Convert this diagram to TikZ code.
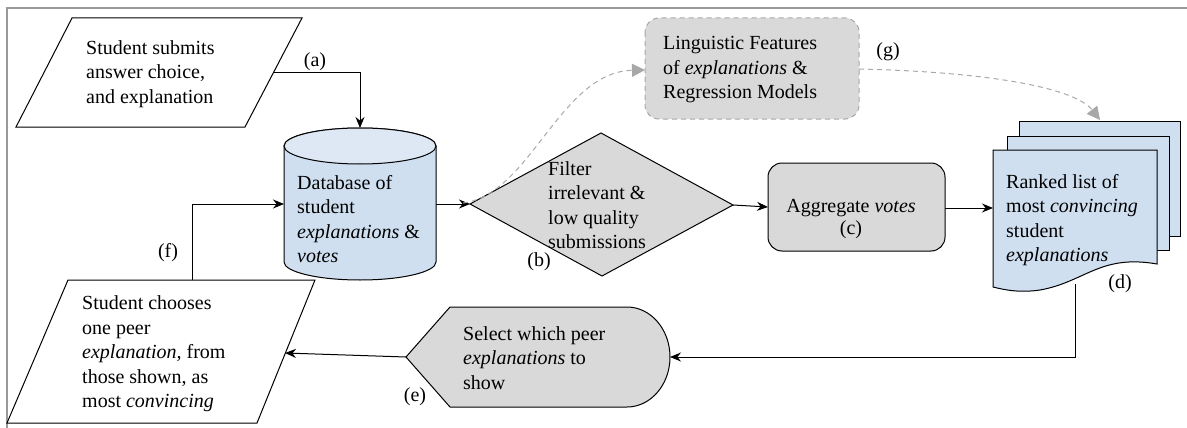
\documentclass[tikz,border=0pt]{standalone}
\usepackage{fontspec}
\setmainfont{Liberation Serif}
\usetikzlibrary{arrows.meta}
\definecolor{blu}{HTML}{CFDFF0}
\definecolor{bluL}{HTML}{DDE8F4}
\definecolor{gry}{HTML}{D9D9D9}
\definecolor{dgray}{HTML}{A8A8A8}
\definecolor{frame}{HTML}{9A9A9A}
\begin{document}
\begin{tikzpicture}[x=1pt,y=-1pt,
 txt/.style={font=\fontsize{20}{24.5}\selectfont, inner sep=0pt, align=left, anchor=west},
 lbl/.style={font=\fontsize{20}{24}\selectfont, inner sep=0pt},
 shp/.style={draw=black, line width=1pt},
 arr/.style={line width=1pt, -{Stealth[length=11pt,width=9pt]}},
 garr/.style={draw=dgray, line width=1pt, dash pattern=on 5pt off 4pt, -{Triangle[length=13pt,width=13pt,fill=dgray]}}]
\useasboundingbox (0,0) rectangle (1187,428);
\draw[frame, line width=1.5pt] (7,428) -- (7,8) -- (1187,8);

% parallelogram 1
\draw[shp, fill=white] (72,18) -- (302,18) -- (245,127) -- (16,127) -- cycle;
\node[txt] (p1) at (86,74) {Student submits\\answer choice,\\and explanation};
\coordinate (p1R) at (273,73);

% database cylinder
\draw[shp, fill=blu] (284,146) -- (284,262) arc[start angle=180,end angle=360,x radius=76pt,y radius=18pt] -- (436,146) arc[start angle=0,end angle=180,x radius=76pt,y radius=18pt] -- cycle;
\draw[shp, fill=bluL] (360,146) ellipse[x radius=76pt, y radius=18pt];
\node[txt] (db) at (297,219) {Database of\\student\\\textit{explanations} \&\\\textit{votes}};
\coordinate (dbT) at (360,128);
\coordinate (dbR) at (436,204);
\coordinate (dbL) at (284,204);

\draw[arr] (p1R) -| (dbT);
\node[lbl] (la) at (315,62) {(a)};

% diamond
\draw[shp, fill=gry] (470,204) -- (601,133) -- (733,205) -- (602,276) -- cycle;
\coordinate (flL) at (470,204);
\coordinate (flR) at (733,205);
\node[txt] (flt) at (548,205) {Filter\\irrelevant \&\\low quality\\submissions};
\node[lbl] (lb) at (539,262) {(b)};
\draw[arr] (dbR) -- (flL);

% linguistic box
\draw[draw=dgray, fill=gry, dash pattern=on 5pt off 4pt, line width=1pt, rounded corners=14pt] (645,18) rectangle (859,119);
\node[txt] (ling) at (663,70) {Linguistic Features\\of \textit{explanations} \&\\Regression Models};
\coordinate (lingL) at (645,70);
\coordinate (lingR) at (859,69);
\coordinate (dbS) at (463,203);
\draw[garr] (dbS) .. controls (530,195) and (560,72) .. (lingL);

% aggregate
\draw[shp, fill=gry, rounded corners=14pt] (768,163) rectangle (945,251);
\node[lbl] (agg) at (851,208) {Aggregate \textit{votes}};
\node[lbl] (lc) at (851,230) {(c)};
\coordinate (aggL) at (768,207);
\coordinate (aggR) at (945,208);
\draw[arr] (flR) -- (aggL);

% documents
\draw[shp, fill=blu] (1019,121) rectangle (1180,236);
\draw[shp, fill=blu] (1007,136) rectangle (1169,250);
\draw[shp, fill=blu] (993,150) -- (1157,150) -- (1157,264) .. controls (1100,254) and (1085,282) .. (1040,290) .. controls (1020,293) and (1005,290) .. (993,287) -- cycle;
\node[txt] (rank) at (1006,220) {Ranked list of\\most \textit{convincing}\\student\\\textit{explanations}};
\node[lbl] (ld) at (1120,284) {(d)};
\coordinate (docL) at (993,208);
\coordinate (docT) at (1100,120);
\coordinate (docB) at (1075,284);
\draw[arr] (aggR) -- (docL);
\draw[garr] (lingR) .. controls (990,72) and (1075,88) .. (docT);
\node[lbl] (lg) at (888,52) {(g)};

% display shape
\draw[shp, fill=gry] (450,307) -- (627,307) arc[start angle=90,end angle=-90,x radius=43pt,y radius=50pt] -- (450,407) -- (406,357) -- cycle;
\node[txt] (sel) at (463,358) {Select which peer\\\textit{explanations} to\\show};
\node[lbl] (le) at (415,397) {(e)};
\coordinate (selR) at (670,357);
\coordinate (selL) at (406,357);
\draw[arr] (docB) |- (selR);

% parallelogram 2
\draw[shp, fill=white] (68,280) -- (315,280) -- (257,423) -- (7,423) -- cycle;
\node[txt] (p2) at (82,354) {Student chooses\\one peer\\\textit{explanation,} from\\those shown, as\\most \textit{convincing}};
\coordinate (p2R) at (285,353);
\coordinate (p2T) at (192,280);
\draw[arr] (selL) -- (p2R);
\draw[arr] (p2T) |- (dbL);
\node[lbl] (lf) at (168,253) {(f)};
\end{tikzpicture}
\end{document}
